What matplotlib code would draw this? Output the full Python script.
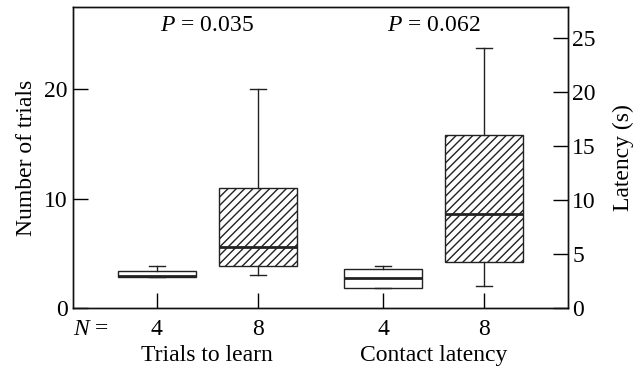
import matplotlib
matplotlib.use('Agg')
import matplotlib.pyplot as plt

plt.rcParams['font.family'] = ['Liberation Serif', 'DejaVu Serif']
plt.rcParams['font.size'] = 17
plt.rcParams['mathtext.fontset'] = 'custom'
plt.rcParams['mathtext.rm'] = 'Liberation Serif'
plt.rcParams['mathtext.it'] = 'Liberation Serif:italic'
plt.rcParams['hatch.linewidth'] = 1.0

# box statistics
groups = ['Trials to learn', 'Contact latency']
n_labels = ['4', '8', '4', '8']
p_values = ['0.035', '0.062']

trials_q1 = [2.85, 3.8]
trials_med = [2.9, 5.6]
trials_q3 = [3.35, 11.0]
trials_lo = [2.85, 3.0]
trials_hi = [3.85, 20.0]

latency_q1 = [1.9, 4.25]
latency_med = [2.75, 8.75]
latency_q3 = [3.65, 16.0]
latency_lo = [1.9, 2.05]
latency_hi = [3.9, 24.1]

line_col = '#222222'


def make_stats(q1, med, q3, lo, hi):
    return [dict(q1=a, med=b, q3=c, whislo=d, whishi=e, fliers=[])
            for a, b, c, d, e in zip(q1, med, q3, lo, hi)]


fig = plt.figure(figsize=(6.43, 3.69), dpi=100)
ax = fig.add_axes([0.1135, 0.1653, 0.77, 0.8157])
ax2 = ax.twinx()

pos_left = [1, 2]
pos_right = [3.24, 4.24]

box_kw = dict(widths=0.77, capwidths=0.16, showfliers=False, patch_artist=True,
              whiskerprops=dict(color=line_col, lw=1),
              capprops=dict(color=line_col, lw=1),
              medianprops=dict(color=line_col, lw=2))

b1 = ax.bxp(make_stats(trials_q1, trials_med, trials_q3, trials_lo, trials_hi),
            positions=pos_left, boxprops=dict(edgecolor=line_col, lw=1), **box_kw)
b2 = ax2.bxp(make_stats(latency_q1, latency_med, latency_q3, latency_lo, latency_hi),
             positions=pos_right, boxprops=dict(edgecolor=line_col, lw=1), **box_kw)

for res in (b1, b2):
    res['boxes'][0].set_facecolor('white')
    res['boxes'][1].set_facecolor('white')
    res['boxes'][1].set_hatch('////')

ax.set_xlim(0.17, 5.07)
ax.set_ylim(0, 27.5)
ax2.set_ylim(0, 27.9)
ax.set_yticks([0, 10, 20])
ax2.set_yticks([0, 5, 10, 15, 20, 25])
ax.set_xticks(pos_left + pos_right)
ax.set_xticklabels(n_labels)

ax.tick_params(axis='y', direction='in', length=10.8, width=1, pad=4, colors='black')
ax2.tick_params(axis='y', direction='in', length=10.8, width=1, pad=3, colors='black')
ax.tick_params(axis='x', direction='in', length=10.8, width=1, pad=8, colors='black')

for a in (ax, ax2):
    for s in a.spines.values():
        s.set_linewidth(1)
        s.set_color('#111111')

ax.set_ylabel('Number of trials', labelpad=5)
ax2.set_ylabel('Latency (s)', labelpad=12)

tr = ax.get_xaxis_transform()
ax.text(1.5, -0.157, groups[0], transform=tr, ha='center', va='center')
ax.text(3.74, -0.157, groups[1], transform=tr, ha='center', va='center')
ax.text(0.17, -0.038, '$N$ =', transform=tr, ha='left', va='top')
ax.text(1.5, 0.94, '$P$ = ' + p_values[0], transform=tr, ha='center', va='center')
ax.text(3.74, 0.94, '$P$ = ' + p_values[1], transform=tr, ha='center', va='center')

fig.savefig('out.png', dpi=100)
